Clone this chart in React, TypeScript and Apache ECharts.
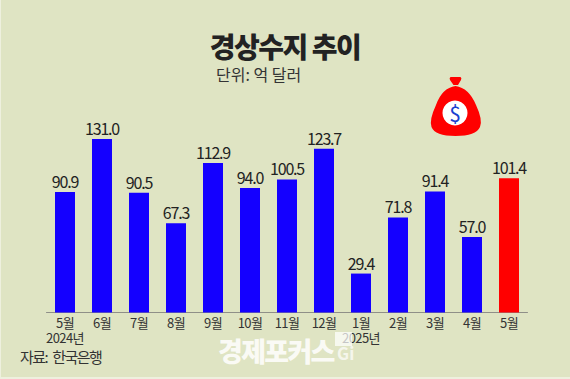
import React, { useEffect, useRef } from "react";
import * as echarts from "echarts";

const categories = ["5월\n2024년", "6월", "7월", "8월", "9월", "10월", "11월", "12월", "1월\n2025년", "2월", "3월", "4월", "5월"];
const values = [90.9, 131.0, 90.5, 67.3, 112.9, 94.0, 100.5, 123.7, 29.4, 71.8, 91.4, 57.0, 101.4];
const highlightIndex = 12;
const title = "경상수지 추이";
const unit = "단위: 억 달러";
const source = "자료: 한국은행";
const watermark = "경제포커스";
const watermarkTail = "Gi";

const FONT = '"Noto Sans CJK KR", "Noto Sans", sans-serif';
const BAG =
  "M19.5 0 H29.5 Q31 1 30 3 L27 8 H22.5 L19 3 Q18 1 19.5 0 Z " +
  "M24.5 9 Q38 11 45 28 Q52 43 49 50 Q45 59 24.5 59 Q4 59 0.5 50 Q-2 43 5 28 Q11 11 24.5 9 Z";
echarts.graphic.registerShape("moneybag", (echarts.graphic as any).extendPath(BAG, {}));

const CSS = `
text[style*="16px"] { letter-spacing: -1.2px; }
text[style*="28px"] { letter-spacing: -1.5px; }
text[style*="15px"] { letter-spacing: -1.5px; word-spacing: 3px; }
text[style*="27px"] { letter-spacing: -1.7px; }
text[style*="13px"] { letter-spacing: -0.6px; }
`;

export default function App() {
  const ref = useRef<HTMLDivElement>(null);
  useEffect(() => {
    document.body.style.margin = "0";
    const chart = echarts.init(ref.current!, undefined, { renderer: "svg" });
    chart.setOption({
      animation: false,
      backgroundColor: "#DFE4C3",
      grid: { left: 46.5, right: 42.5, top: 100.6, bottom: 66.5 },
      xAxis: {
        type: "category",
        data: categories,
        axisTick: { show: false },
        axisLine: { lineStyle: { color: "#8f8f88", width: 1 } },
        axisLabel: {
          interval: 0,
          margin: 2,
          color: "#333",
          fontFamily: FONT,
          fontSize: 13,
          lineHeight: 15,
        },
      },
      yAxis: { type: "value", min: 0, max: 160, show: false, splitLine: { show: false } },
      series: [
        {
          type: "bar",
          barWidth: 20,
          data: values.map((v, i) => ({
            value: v,
            itemStyle: { color: i === highlightIndex ? "#FF0000" : "#1400FF" },
          })),
          label: {
            show: true,
            position: "top",
            distance: 3,
            color: "#222",
            fontFamily: FONT,
            fontSize: 16,
            formatter: (p: any) => p.value.toFixed(1),
          },
        },
      ],
      graphic: [
        { type: "text", x: 285, y: 46, style: { text: title, fontFamily: FONT, fontSize: 28, fontWeight: 900, fill: "#222", textAlign: "center", textVerticalAlign: "middle" } },
        { type: "text", x: 216, y: 74, style: { text: unit, fontFamily: FONT, fontSize: 16.01, fill: "#333", textVerticalAlign: "middle" } },
        { type: "text", x: 20, y: 356, style: { text: source, fontFamily: FONT, fontSize: 15, fill: "#333", textVerticalAlign: "middle" } },
        { type: "text", x: 218, y: 350, style: { text: watermark, fontFamily: FONT, fontSize: 27, fontWeight: 900, fill: "#FFFFFF", opacity: 0.85, textVerticalAlign: "middle" } },
        { type: "text", x: 337, y: 352, style: { text: watermarkTail, fontFamily: FONT, fontSize: 17, fontWeight: 700, fill: "#FFFFFF", opacity: 0.7, textVerticalAlign: "middle" } },
        { type: "rect", z: 100, shape: { x: 335, y: 332, width: 17, height: 14 }, style: { fill: "#FFFFFF", opacity: 0.72 } },
        { type: "rect", shape: { x: 0, y: 377, width: 570, height: 2 }, style: { fill: "#EEF0DE" } },
        { type: "rect", shape: { x: 0, y: 0, width: 1, height: 379 }, style: { fill: "#EEF0DE" } },
        { type: "moneybag", x: 431, y: 77, style: { fill: "#FF0000" } },
        { type: "circle", shape: { cx: 455, cy: 113, r: 12.5 }, style: { fill: "#FFFFFF" } },
        { type: "text", x: 455, y: 113, style: { text: "$", fontFamily: FONT, fontSize: 21, fontWeight: 400, fill: "#1A3FD0", textAlign: "center", textVerticalAlign: "middle" } },
      ],
    });
    return () => chart.dispose();
  }, []);
  return (
    <>
      <style>{CSS}</style>
      <div ref={ref} style={{ width: 570, height: 379 }} />
    </>
  );
}
